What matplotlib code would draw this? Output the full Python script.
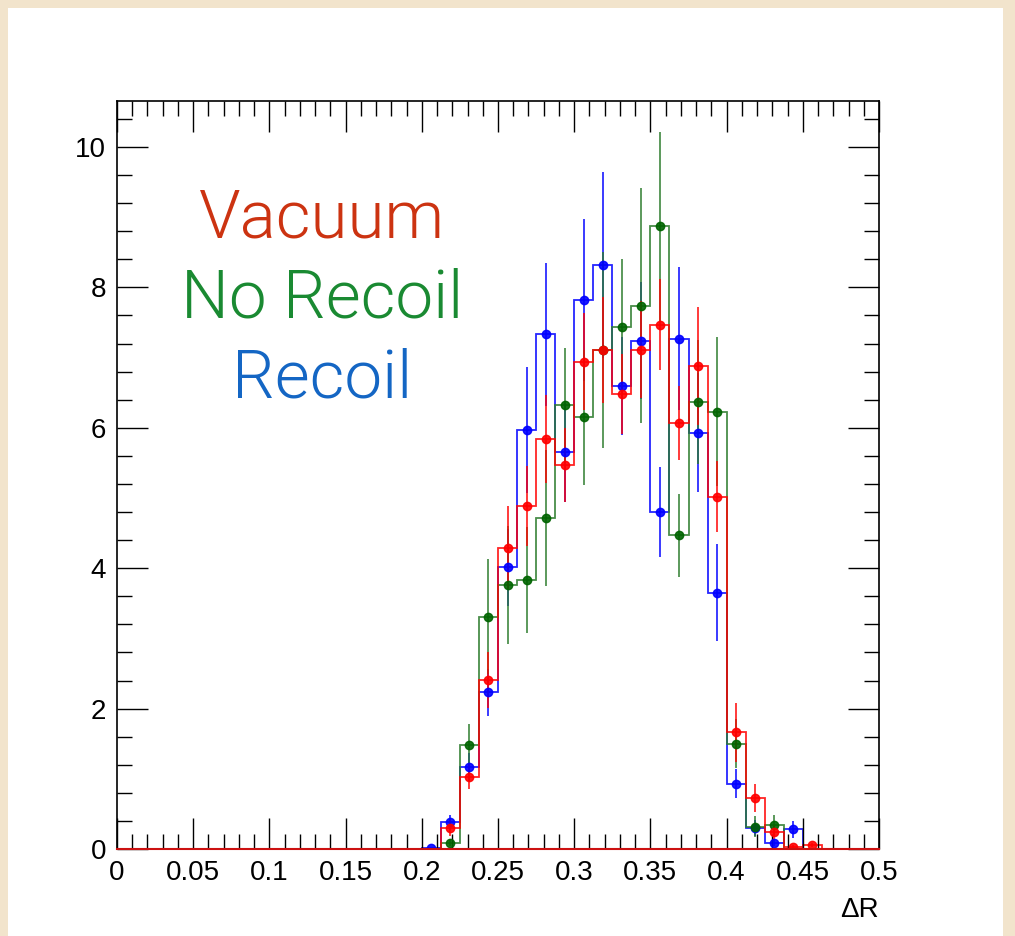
import numpy as np
import matplotlib
matplotlib.use("Agg")
import matplotlib.pyplot as plt
from matplotlib.patches import Rectangle
from matplotlib.ticker import MultipleLocator

plt.rcParams["font.family"] = ["Liberation Sans", "DejaVu Sans"]

# 40 bins of width 0.0125 between 0 and 0.5
bin_edges = np.linspace(0.0, 0.5, 41)

recoil = [0, 0, 0, 0, 0, 0, 0, 0, 0, 0, 0, 0, 0, 0, 0, 0,
          0.01, 0.38, 1.17, 2.23, 4.01, 5.97, 7.33, 5.65, 7.82, 8.32,
          6.60, 7.24, 4.80, 7.27, 5.93, 3.65, 0.93, 0.30, 0.09, 0.28,
          0, 0, 0, 0]
recoil_err = [0, 0, 0, 0, 0, 0, 0, 0, 0, 0, 0, 0, 0, 0, 0, 0,
              0.01, 0.11, 0.20, 0.33, 0.55, 0.90, 1.02, 0.70, 1.15, 1.32,
              0.70, 0.83, 0.64, 1.02, 0.85, 0.69, 0.21, 0.12, 0.05, 0.12,
              0, 0, 0, 0]

no_recoil = [0, 0, 0, 0, 0, 0, 0, 0, 0, 0, 0, 0, 0, 0, 0, 0,
             0, 0.09, 1.48, 3.31, 3.76, 3.83, 4.72, 6.32, 6.15, 7.11,
             7.43, 7.74, 8.87, 4.47, 6.37, 6.23, 1.50, 0.32, 0.34, 0,
             0, 0, 0, 0]
no_recoil_err = [0, 0, 0, 0, 0, 0, 0, 0, 0, 0, 0, 0, 0, 0, 0, 0,
                 0, 0.05, 0.30, 0.82, 0.84, 0.75, 0.97, 0.82, 0.96, 1.40,
                 0.98, 1.67, 1.35, 0.59, 0.88, 1.06, 0.35, 0.15, 0.15, 0,
                 0, 0, 0, 0]

vacuum = [0, 0, 0, 0, 0, 0, 0, 0, 0, 0, 0, 0, 0, 0, 0, 0,
          0, 0.30, 1.03, 2.41, 4.29, 4.89, 5.84, 5.47, 6.94, 7.11,
          6.48, 7.11, 7.47, 6.07, 6.88, 5.02, 1.66, 0.72, 0.24, 0.03,
          0.06, 0, 0, 0]
vacuum_err = [0, 0, 0, 0, 0, 0, 0, 0, 0, 0, 0, 0, 0, 0, 0, 0,
              0, 0.12, 0.18, 0.40, 0.59, 0.57, 0.62, 0.53, 0.69, 0.76,
              0.57, 0.69, 0.65, 0.53, 0.84, 0.51, 0.42, 0.20, 0.10, 0.02,
              0.03, 0, 0, 0]

x_ticks = [0, 0.05, 0.1, 0.15, 0.2, 0.25, 0.3, 0.35, 0.4, 0.45, 0.5]
x_tick_labels = ["0", "0.05", "0.1", "0.15", "0.2", "0.25", "0.3",
                 "0.35", "0.4", "0.45", "0.5"]
y_ticks = [0, 2, 4, 6, 8, 10]

W, H = 1015, 936
fig = plt.figure(figsize=(W / 100, H / 100), dpi=100, facecolor="#f2e4cc")
# white slide area on top of the beige background
fig.patches.append(Rectangle((8 / W, 0), (1003 - 8) / W, (H - 8) / H,
                             transform=fig.transFigure, facecolor="white",
                             edgecolor="none", zorder=-10))

ax = fig.add_axes([117 / W, (H - 849) / H, 762 / W, 748 / H])
ax.set_zorder(2)
ax.set_facecolor("white")

centers = 0.5 * (bin_edges[:-1] + bin_edges[1:])

series = [
    (recoil, recoil_err, "#0000ff", "#0000ff"),
    (no_recoil, no_recoil_err, "#2a7a2a", "#006400"),
    (vacuum, vacuum_err, "#ff0000", "#ff0000"),
]
for vals, errs, lc, mc in series:
    vals = np.array(vals, dtype=float)
    errs = np.array(errs, dtype=float)
    ax.stairs(vals, bin_edges, color=lc, lw=1.3, alpha=0.85, baseline=None)
    keep = vals > 0
    ax.errorbar(centers[keep], vals[keep], yerr=errs[keep], fmt="o",
                color=mc, ecolor=lc, elinewidth=1.2, markersize=6,
                capsize=0, alpha=0.9)
# zero level drawn in the last colour, as in the original
ax.axhline(0, color="#cc1111", lw=1.5, clip_on=False, zorder=3)

ax.set_xlim(0, 0.5)
ax.set_ylim(0, 10.655)
ax.set_xticks(x_ticks)
ax.set_xticklabels(x_tick_labels)
ax.set_yticks(y_ticks)
ax.xaxis.set_minor_locator(MultipleLocator(0.01))
ax.yaxis.set_minor_locator(MultipleLocator(0.4))
ax.tick_params(which="both", direction="in", top=True, right=True,
               labelsize=20, width=1, color="black")
ax.tick_params(which="major", length=22)
ax.tick_params(which="minor", length=11)
ax.tick_params(axis="x", pad=8)
ax.tick_params(axis="y", pad=8)
for s in ax.spines.values():
    s.set_linewidth(1.2)

fig.text(879 / W, 1 - 910 / H, "\u0394R", ha="right", va="center",
         fontsize=20)

# labels of the three samples
tx = 322 / W
lab_font = ["Roboto", "Liberation Sans", "DejaVu Sans"]
fig.text(tx, 1 - 237 / H, "Vacuum", color="#cc3311", fontsize=48.5,
         ha="center", va="baseline", family=lab_font, weight=300, zorder=5)
fig.text(tx, 1 - 317 / H, "No Recoil", color="#1a8a32", fontsize=48.5,
         ha="center", va="baseline", family=lab_font, weight=300, zorder=5)
fig.text(tx, 1 - 397 / H, "Recoil", color="#1466c4", fontsize=48.5,
         ha="center", va="baseline", family=lab_font, weight=300, zorder=5)

fig.savefig("out.png", dpi=100, facecolor=fig.get_facecolor())
